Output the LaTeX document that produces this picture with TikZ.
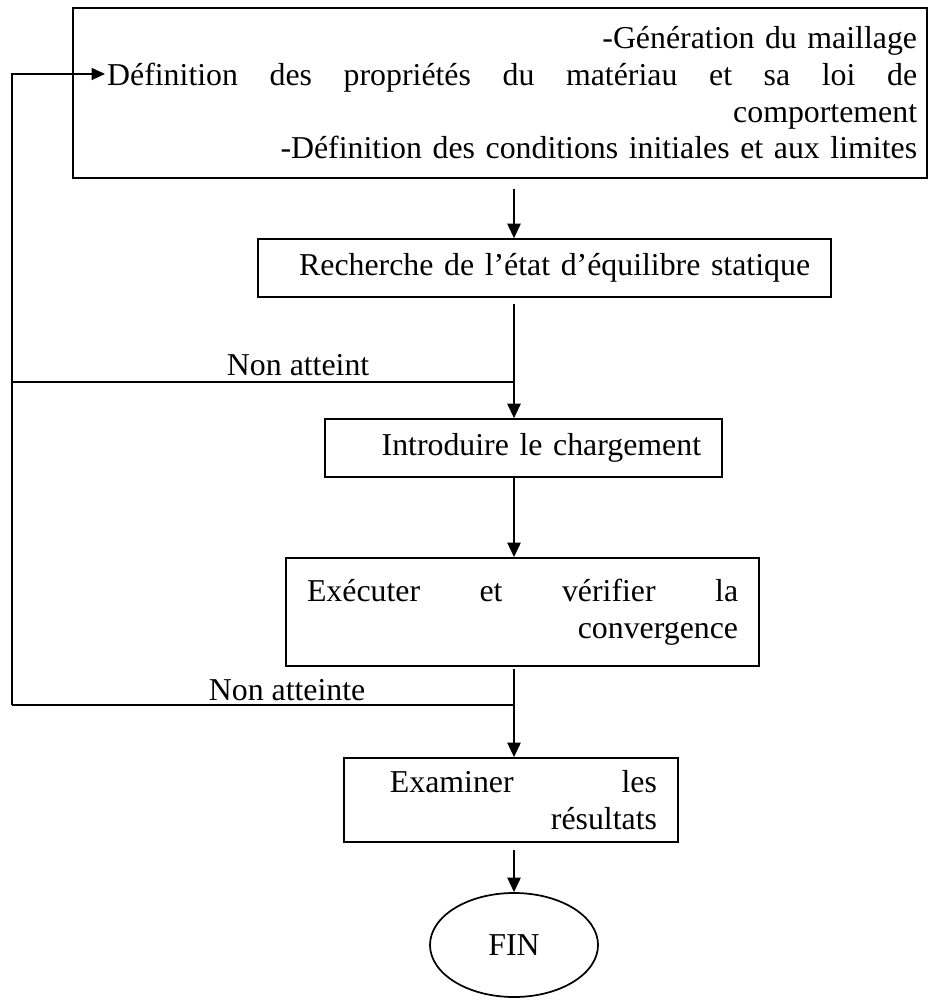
\documentclass[tikz,border=0pt]{standalone}
\usepackage{fontspec}
\setmainfont{Liberation Serif}
\usepackage{tikz}
\usetikzlibrary{positioning,arrows.meta,shapes.geometric,calc}

\begin{document}
\fontsize{12pt}{13.8pt}\selectfont
\begin{tikzpicture}[
        etape/.style={draw, line width=0.65pt, inner xsep=0.278cm, inner ysep=0pt, align=right},
        fleche/.style={line width=0.75pt, -{Triangle[length=5.5pt,width=5pt]}},
        retour/.style={line width=0.5pt}
    ]
        \useasboundingbox (0,0) rectangle (12.295,-13.262);

        % Boxes of the procedure, top to bottom
        \node[etape, inner xsep=0.1325cm, text width=11.05cm, minimum width=11.315cm, minimum height=2.252cm] (setup) at (6.625,-1.232)
            {-Génération du maillage\\
             \hspace*{0.32cm}Définition\hfill des\hfill propriétés\hfill du\hfill matériau\hfill et\hfill sa\hfill loi\hfill de\\
             comportement\\
             -Définition des conditions initiales et aux limites};
        \node[etape, text width=7.036cm, minimum width=7.592cm, minimum height=0.768cm] (equil) at (7.214,-3.551)
            {Recherche de l’état d’équilibre statique};
        \node[etape, text width=4.704cm, minimum width=5.260cm, minimum height=0.768cm] (charg) at (6.936,-5.936)
            {Introduire le chargement};
        \node[etape, text width=5.711cm, minimum width=6.267cm, minimum height=1.431cm] (conv) at (6.923,-8.108)
            {Exécuter\hfill et\hfill vérifier\hfill la\\ convergence};
        \node[etape, text width=3.869cm, minimum width=4.425cm, minimum height=1.113cm] (result) at (6.770,-10.599)
            {\hspace*{0.33cm}Examiner\hfill les\\ résultats};
        \node[draw, ellipse, line width=0.65pt, inner sep=0pt, minimum width=2.226cm, minimum height=1.378cm] (fin) at (6.810,-12.520) {FIN};

        % Main axis and the points of the two loops
        \coordinate (axe) at (6.810,0);
        \coordinate (gauche) at (0.159,0);
        \coordinate (entree) at (1.391,-0.980);
        \coordinate (boucle1) at (6.810,-5.061);
        \coordinate (boucle2) at (6.810,-9.341);

        \draw[fleche, shorten <=0.13cm] (setup.south -| axe) -- (equil.north -| axe);
        \draw[fleche, shorten <=0.08cm] (equil.south -| axe) -- (charg.north -| axe);
        \draw[fleche] (charg.south -| axe) -- (conv.north -| axe);
        \draw[fleche, shorten <=0.03cm] (conv.south -| axe) -- (result.north -| axe);
        \draw[fleche, shorten <=0.1cm] (result.south -| axe) -- (fin.north);

        % Back to the model definition
        \draw[retour] (boucle1) -- node[above, pos=0.43, inner sep=2pt] {Non atteint} (boucle1 -| gauche);
        \draw[retour] (boucle2) -- node[above, pos=0.452, inner sep=1.5pt] {Non atteinte} (boucle2 -| gauche);
        \draw[retour, -{Triangle[length=5pt,width=4.5pt]}] (boucle2 -| gauche) |- (entree);
    \end{tikzpicture}
\end{document}
